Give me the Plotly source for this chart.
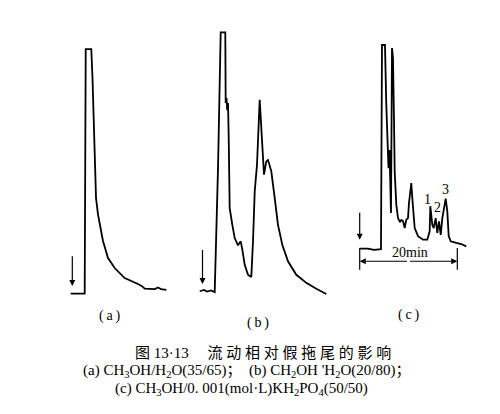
import plotly.graph_objects as go

# chromatograms: time in min after injection, detector response (arbitrary units)
a_time = [-0.33, 2.54, 2.75, 3.89, 4.14, 4.24, 4.45, 4.59, 4.86, 5.27, 5.78, 6.29,
          7.32, 8.69, 10.74, 12.23, 13.46, 14.28, 14.84, 16.89, 17.56, 18.18, 19.26]
a_signal = [1.6, 1.6, 92.2, 92.2, 81.5, 75.3, 55.6, 44.4, 37.0, 30.9, 25.2, 21.1,
            14.8, 11.1, 7.4, 6.3, 5.2, 4.4, 3.5, 3.3, 3.9, 3.3, 3.0]

b_time = [-0.57, 0.31, 0.92, 1.74, 2.50, 2.77, 3.18, 3.73, 4.67, 4.75, 4.92, 5.06,
          5.23, 5.37, 5.47, 5.57, 6.11, 6.60, 7.27, 7.83, 8.16, 8.65, 9.32, 10.00,
          10.35, 10.70, 11.17, 11.48, 11.72, 12.05, 12.60, 13.07, 13.42, 13.73, 14.10,
          14.80, 15.47, 16.35, 17.52, 19.22, 21.27, 23.32, 25.37]
b_signal = [2.5, 3.0, 2.4, 2.8, 2.2, 18.5, 48.1, 98.4, 98.4, 72.2, 74.1, 69.6,
            72.2, 59.3, 48.1, 33.3, 27.1, 22.2, 19.5, 21.0, 17.9, 12.3, 8.6, 7.8,
            21.0, 39.5, 49.4, 64.8, 73.4, 63.0, 45.7, 50.6, 51.1, 49.3, 46.9,
            37.0, 27.1, 19.7, 13.6, 8.6, 5.6, 3.4, 1.5]

c_time = [0, 1.70, 2.93, 4.36, 4.57, 5.18, 5.45, 5.66, 5.90, 6.11, 6.27, 6.41,
          6.62, 6.82, 7.03, 7.17, 7.50, 7.85, 8.26, 8.52, 8.87, 9.22, 9.55, 9.90,
          10.10, 10.57, 10.78, 11.27, 11.95, 12.97, 13.85, 14.34, 14.47, 14.88, 15.16,
          15.57, 15.90, 16.25, 16.60, 16.93, 17.62, 17.95, 18.24, 18.65, 19.80, 20.82, 21.84]
c_signal = [18.3, 18.3, 17.8, 18.1, 93.7, 93.7, 71.6, 55.6, 48.1, 54.8, 35.2, 31.5,
            92.6, 88.9, 65.6, 46.9, 34.6, 29.6, 28.1, 28.9, 28.5, 25.9, 29.0, 29.6,
            35.2, 42.6, 37.0, 25.9, 22.9, 21.6, 21.6, 24.7, 34.0, 27.1, 25.9,
            29.6, 24.1, 28.4, 23.4, 29.6, 36.8, 32.1, 22.9, 21.0, 20.4, 20.0, 19.1]

# numbered peaks in (c)
c_peak_names = ["1", "2", "3"]
c_peak_time = [13.85, 15.90, 17.62]
c_peak_level = [36.4, 33.6, 40.1]

# injection arrows (a, b, c)
inject_top = [16.0, 18.3, 32.1]
inject_bottom = [4.4, 5.2, 21.6]

# 20 min scale bar under (c)
bar_time = [0, 20]
bar_level = 13.6
bar_tick = [18.5, 10.5]

panel_labels = ["(\u2009a\u2009)", "(\u2009b\u2009)", "(\u2009c\u2009)"]
caption_title = "图 13·13　 流 动 相 对 假 拖 尾 的 影 响"
caption_a = ("(a) CH<sub>3</sub>OH/H<sub>2</sub>O(35/65)；  "
             "(b) CH<sub>2</sub>OH 'H<sub>2</sub>O(20/80)；")
caption_c = "(c) CH<sub>3</sub>OH/0. 001(mol·L)KH<sub>2</sub>PO<sub>4</sub>(50/50)"

W, H = 500, 414
PX_PER_MIN = 4.88
INK = "#000000"
SERIF = "Liberation Serif, Noto Sans CJK SC"

# pixel box of each panel and pixel position of the injection
panels = [(50, 170, 64.3), (180, 330, 194.5), (340, 470, 351.7)]
y_box = (20, 290)

fig = go.Figure()
series = [(a_time, a_signal), (b_time, b_signal), (c_time, c_signal)]
for i, (t, s) in enumerate(series):
    n = "" if i == 0 else str(i + 1)
    fig.add_trace(go.Scatter(x=t, y=s, mode="lines", line=dict(color=INK, width=1.8),
                             xaxis="x" + n, yaxis="y" + n, showlegend=False, hoverinfo="skip"))
    left, right, inj = panels[i]
    fig.update_layout({
        "xaxis" + n: dict(domain=[left / W, right / W],
                          range=[(left - inj) / PX_PER_MIN, (right - inj) / PX_PER_MIN],
                          visible=False, anchor="y" + n),
        "yaxis" + n: dict(domain=[1 - y_box[1] / H, 1 - y_box[0] / H], range=[0, 100],
                          visible=False, anchor="x" + n),
    })
    fig.add_annotation(x=0, y=inject_bottom[i], ax=0, ay=inject_top[i],
                       xref="x" + n, yref="y" + n, axref="x" + n, ayref="y" + n,
                       text="", showarrow=True, arrowhead=2, arrowsize=1,
                       arrowwidth=1.2, arrowcolor=INK, standoff=0)

# scale bar ticks
fig.add_trace(go.Scatter(x=[bar_time[0], bar_time[0], None, bar_time[1], bar_time[1]],
                         y=[bar_tick[0], bar_tick[1], None, bar_tick[0], bar_tick[1]],
                         mode="lines", line=dict(color=INK, width=1.2),
                         xaxis="x3", yaxis="y3", showlegend=False, hoverinfo="skip"))
mid = (bar_time[0] + bar_time[1]) / 2
for end in bar_time:
    fig.add_annotation(x=end, y=bar_level, ax=mid, ay=bar_level,
                       xref="x3", yref="y3", axref="x3", ayref="y3",
                       text="", showarrow=True, arrowhead=2, arrowsize=1.1,
                       arrowwidth=1.1, arrowcolor=INK, standoff=0)
fig.add_annotation(x=mid + 0.25, y=bar_level, xref="x3", yref="y3", text="20min",
                   showarrow=False, xanchor="center", yanchor="bottom", yshift=-1,
                   font=dict(family=SERIF, size=14, color=INK))

for name, t, lvl in zip(c_peak_names, c_peak_time, c_peak_level):
    fig.add_annotation(x=t, y=lvl, xref="x3", yref="y3", text=name, showarrow=False,
                       xanchor="center", font=dict(family=SERIF, size=14, color=INK))

# panel labels and caption
for label, (px, py) in zip(panel_labels, [(101.7, 308), (250, 315), (400, 306.7)]):
    fig.add_annotation(x=px / W, y=1 - py / H, xref="paper", yref="paper", text=label,
                       showarrow=False, xanchor="center", yanchor="middle",
                       font=dict(family=SERIF, size=14, color=INK))

for text, (px, py), size in [(caption_title, (255, 345), 15),
                             (caption_a, (238, 363), 15),
                             (caption_c, (233, 381), 15)]:
    fig.add_annotation(x=px / W, y=1 - py / H, xref="paper", yref="paper", text=text,
                       showarrow=False, xanchor="center", yanchor="middle",
                       font=dict(family=SERIF, size=size, color=INK))

fig.update_layout(width=W, height=H, margin=dict(l=0, r=0, t=0, b=0),
                  paper_bgcolor="white", plot_bgcolor="white")
fig.write_html("out.html")
